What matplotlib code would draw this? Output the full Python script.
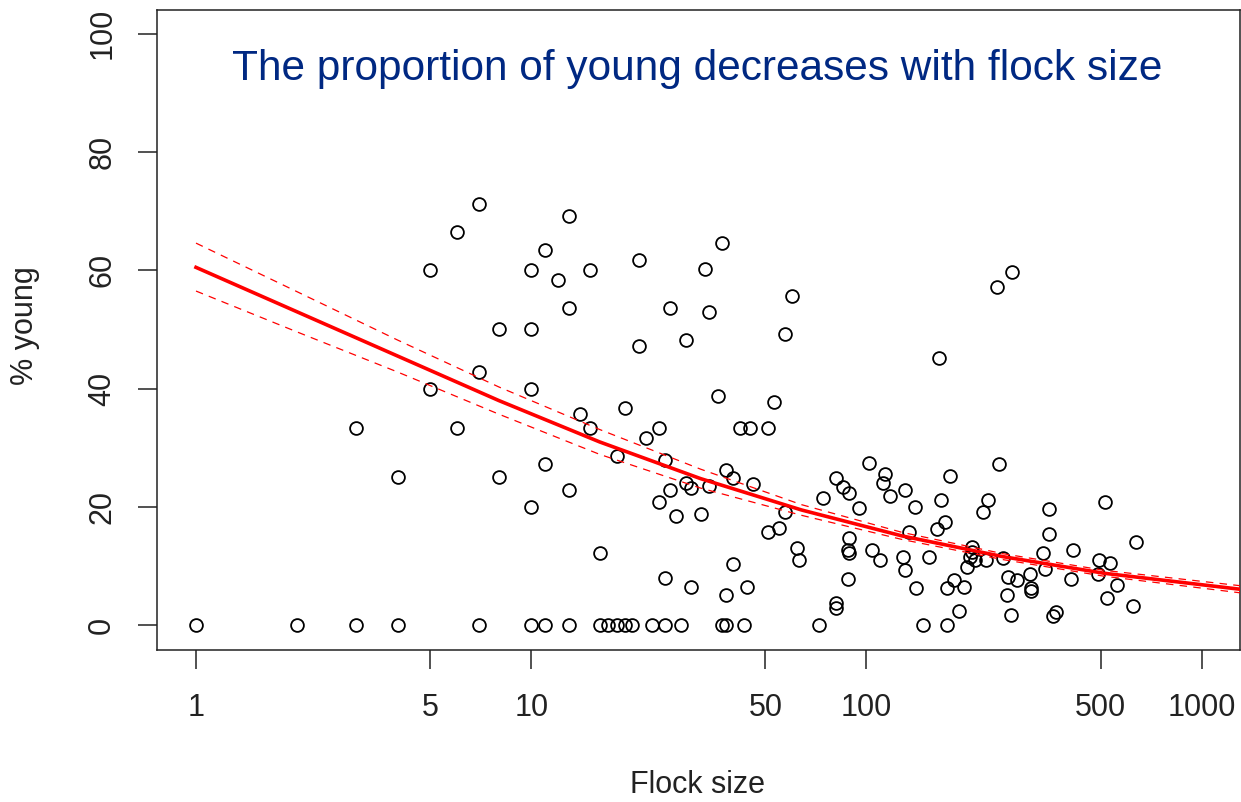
import matplotlib
matplotlib.use('Agg')
import matplotlib.pyplot as plt

plt.rcParams['font.family'] = ['Liberation Sans', 'DejaVu Sans']

# flock size / % young
flock = [1, 2, 3, 4, 7, 10, 11, 13, 16, 17, 18, 19, 20, 23, 25, 28, 37, 38, 43, 72, 148, 174,
         5, 6, 7, 7, 5, 3, 6, 4,
         13, 11, 10, 12, 15, 21, 37, 33,
         13, 8, 10, 26, 34, 60, 57, 21, 29,
         10, 36, 53, 19, 14, 15, 24, 22, 42, 45, 51,
         18, 25, 11, 8, 38, 40, 29, 30, 34, 46, 26, 13, 24, 27, 32, 10, 57, 55, 51,
         62, 63, 16, 40, 25, 30, 44, 38,
         165, 102, 249, 81, 114, 112, 177, 85, 89, 74, 118, 130, 95, 140, 167, 230, 223,
         351, 516, 172, 162, 134, 351, 89, 636, 88, 89, 104, 110, 129, 130, 154, 206, 206,
         204, 211, 228, 199, 256, 337, 342, 414, 494, 533, 492, 560, 308, 281, 265, 409,
         182, 174, 195, 141, 88, 310, 310, 263, 626, 522, 189, 270, 367, 361, 81, 81,
         246, 271]
young = [0, 0, 0, 0, 0, 0, 0, 0, 0, 0, 0, 0, 0, 0, 0, 0, 0, 0, 0, 0, 0, 0,
         60, 66.4, 71.2, 42.8, 40, 33.3, 33.3, 25,
         69.2, 63.4, 60, 58.4, 60, 61.7, 64.7, 60.3,
         53.6, 50, 50, 53.6, 52.9, 55.6, 49.2, 47.2, 48.2,
         40, 38.8, 37.7, 36.7, 35.7, 33.3, 33.3, 31.6, 33.3, 33.3, 33.3,
         28.7, 27.9, 27.2, 25, 26.2, 24.9, 24.1, 23.2, 23.5, 23.9, 22.9, 22.9, 20.8, 18.4, 18.8, 20, 19.1, 16.4, 15.7,
         13, 11, 12.3, 10.4, 8, 6.5, 6.5, 5.1,
         45.1, 27.5, 27.2, 24.9, 25.6, 24.1, 25.2, 23.4, 22.4, 21.5, 21.9, 22.8, 19.8, 20.0, 21.1, 21.1, 19.1,
         19.7, 20.8, 17.4, 16.3, 15.7, 15.4, 14.8, 14.0, 12.7, 12.3, 12.7, 11.0, 11.6, 9.3, 11.6, 13.2, 12.4,
         11.6, 11.0, 11.0, 9.9, 11.3, 12.3, 9.5, 12.7, 11.0, 10.6, 8.6, 6.9, 8.6, 7.7, 8.2, 7.9,
         7.7, 6.25, 6.5, 6.25, 7.9, 6.25, 5.85, 5.2, 3.3, 4.6, 2.5, 1.7, 2.2, 1.5, 3.7, 2.9,
         57.1, 59.7]

# fitted curve and its band, read at a few flock sizes
fit_x = [1, 2, 4, 8, 16, 32, 64, 128, 256, 512, 1302]
fit_y = [60.5, 53.0, 45.5, 38.0, 31.0, 24.8, 19.5, 15.1, 11.6, 8.8, 6.1]
fit_lo = [56.5, 49.6, 42.8, 35.7, 28.9, 23.2, 18.6, 14.5, 11.1, 8.3, 5.5]
fit_hi = [64.6, 56.4, 48.2, 40.3, 33.1, 26.4, 20.4, 15.7, 12.1, 9.3, 6.7]

xticks = [1, 5, 10, 50, 100, 500, 1000]
yticks = [0, 20, 40, 60, 80, 100]

W, H = 1241, 802
fig = plt.figure(figsize=(W / 100, H / 100), dpi=100)
ax = fig.add_axes([157 / W, 1 - 650 / H, (1240 - 157) / W, 640 / H])

ax.plot(flock, young, 'o', mfc='none', mec='black', ms=9.2, mew=1.3, zorder=3)
ax.plot(fit_x, fit_y, color='red', lw=2.6, zorder=4)
ax.plot(fit_x, fit_lo, color='red', lw=0.9, dashes=(6, 5), zorder=4)
ax.plot(fit_x, fit_hi, color='red', lw=0.9, dashes=(6, 5), zorder=4)

ax.set_xscale('log')
ax.set_xlim(0.765, 1302)
ax.set_ylim(-4.17, 104.0)
ax.set_xticks(xticks)
ax.set_xticklabels([str(t) for t in xticks])
ax.xaxis.set_minor_locator(matplotlib.ticker.NullLocator())
ax.set_yticks(yticks)
ax.set_yticklabels([str(t) for t in yticks])
for lab in ax.get_yticklabels():
    lab.set_rotation(90)
    lab.set_va('center')

ax.tick_params(axis='both', length=13.7, width=1.1, color='#222222',
               labelsize=22, labelcolor='#222222')
ax.tick_params(axis='x', pad=17)
ax.tick_params(axis='y', pad=15)
for sp in ax.spines.values():
    sp.set_linewidth(1.1)
    sp.set_color('#222222')

fig.text(697 / W, 1 - 80 / H, 'The proportion of young decreases with flock size',
         ha='center', va='baseline', fontsize=30.5, color='#002882')
fig.text(698 / W, 1 - 785 / H, 'Flock size', ha='center', va='center',
         fontsize=22, color='#222222')
fig.text(25 / W, 1 - 326 / H, '% young', ha='center', va='center', rotation=90,
         fontsize=22, color='#222222')

fig.savefig('out.png', dpi=100)
